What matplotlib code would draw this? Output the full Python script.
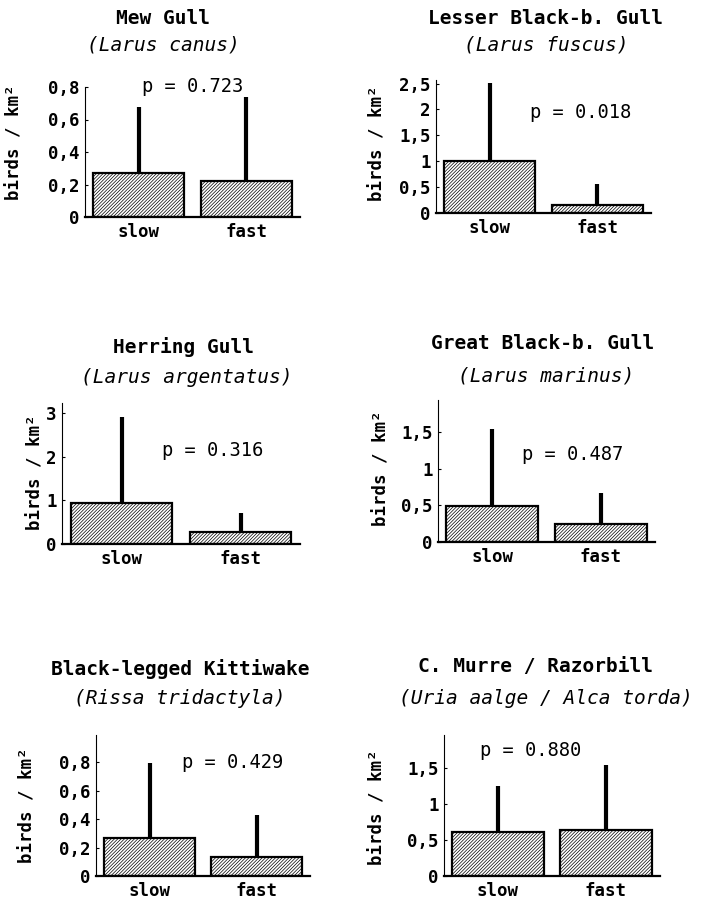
import matplotlib
matplotlib.use("Agg")
import matplotlib.pyplot as plt
from matplotlib.ticker import FuncFormatter

plt.rcParams["font.family"] = ["DejaVu Sans Mono", "DejaVu Sans"]
plt.rcParams["hatch.linewidth"] = 0.5

# Data
groups = ["slow", "fast"]

common_names = ["Mew Gull", "Lesser Black-b. Gull", "Herring Gull",
                "Great Black-b. Gull", "Black-legged Kittiwake",
                "C. Murre / Razorbill"]
latin_names = ["(Larus canus)", "(Larus fuscus)", "(Larus argentatus)",
               "(Larus marinus)", "(Rissa tridactyla)",
               "(Uria aalge / Alca torda)"]
p_values = ["0.723", "0.018", "0.316", "0.487", "0.429", "0.880"]

# mean density per group
means_slow = [0.27, 1.00, 0.94, 0.49, 0.27, 0.61]
means_fast = [0.22, 0.15, 0.27, 0.25, 0.135, 0.64]
# top of the (upper only) error bar
upper_slow = [0.675, 2.52, 2.91, 1.54, 0.79, 1.25]
upper_fast = [0.74, 0.56, 0.70, 0.67, 0.43, 1.54]

y_ticks = [[0, 0.2, 0.4, 0.6, 0.8],
           [0, 0.5, 1, 1.5, 2, 2.5],
           [0, 1, 2, 3],
           [0, 0.5, 1, 1.5],
           [0, 0.2, 0.4, 0.6, 0.8],
           [0, 0.5, 1, 1.5]]
y_max = [0.8, 2.57, 3.23, 1.94, 0.99, 1.96]

# layout in pixels: spine x, axis end x, axis top y, zero line y
W, H = 706, 900
boxes = [(85, 300, 87, 217), (436, 651, 80, 213),
         (62, 300, 403, 544), (438, 655, 400, 542),
         (96, 310, 735, 876), (444, 660, 735, 876)]
# title centre x, roman y, italic y
title_pos = [(163, 163, 18, 45), (546, 546, 18, 45),
             (183, 187, 347, 378), (543, 546, 343, 376),
             (180, 180, 669, 698), (535, 546, 667, 698)]
ylab_pos = [(15, 142), (378, 143), (35, 472), (381, 468), (28, 805), (378, 807)]
p_pos = [(193, 87), (581, 112), (213, 450), (573, 454), (233, 763), (531, 750)]


def fx(x):
    return x / W


def fy(y):
    return 1 - y / H


comma = FuncFormatter(lambda v, pos: f"{v:g}".replace(".", ","))

fig = plt.figure(figsize=(W / 100, H / 100), dpi=100)

for i in range(6):
    x0, x1, yt, yb = boxes[i]
    ax = fig.add_axes([fx(x0), fy(yb), fx(x1) - fx(x0), fy(yt) - fy(yb)])

    heights = [means_slow[i], means_fast[i]]
    errs = [upper_slow[i] - means_slow[i], upper_fast[i] - means_fast[i]]
    pos = [0, 1]
    ax.bar(pos, heights, width=0.85, color="white", edgecolor="black",
           linewidth=1.6, hatch="//////////", zorder=2)
    ax.errorbar(pos, heights, yerr=[[0, 0], errs], fmt="none",
                ecolor="black", elinewidth=3, capsize=0, zorder=3)

    ax.set_xlim(-0.5, 1.5)
    ax.set_ylim(0, y_max[i])
    ax.set_yticks(y_ticks[i])
    ax.yaxis.set_major_formatter(comma)
    ax.set_xticks(pos)
    ax.set_xticklabels(groups)
    ax.tick_params(axis="y", direction="in", length=2, width=0.8,
                   labelsize=12.5, pad=4)
    ax.tick_params(axis="x", length=0, labelsize=12.5, pad=4)
    for lab in ax.get_xticklabels() + ax.get_yticklabels():
        lab.set_fontweight("bold")

    for s in ["top", "right"]:
        ax.spines[s].set_visible(False)
    ax.spines["left"].set_linewidth(0.8)
    ax.spines["bottom"].set_linewidth(1.6)

    tx, ix, ty, iy = title_pos[i]
    fig.text(fx(tx), fy(ty), common_names[i], ha="center", va="center",
             fontsize=14, fontweight="semibold")
    fig.text(fx(ix), fy(iy), latin_names[i], ha="center", va="center",
             fontsize=14, style="italic")
    lx, ly = ylab_pos[i]
    fig.text(fx(lx), fy(ly), "birds / km²", ha="center", va="center",
             rotation=90, fontsize=12.5, fontweight="bold")
    px, py = p_pos[i]
    fig.text(fx(px), fy(py), "p = " + p_values[i], ha="center", va="center",
             fontsize=13.5)

fig.savefig("out.png", dpi=100)
